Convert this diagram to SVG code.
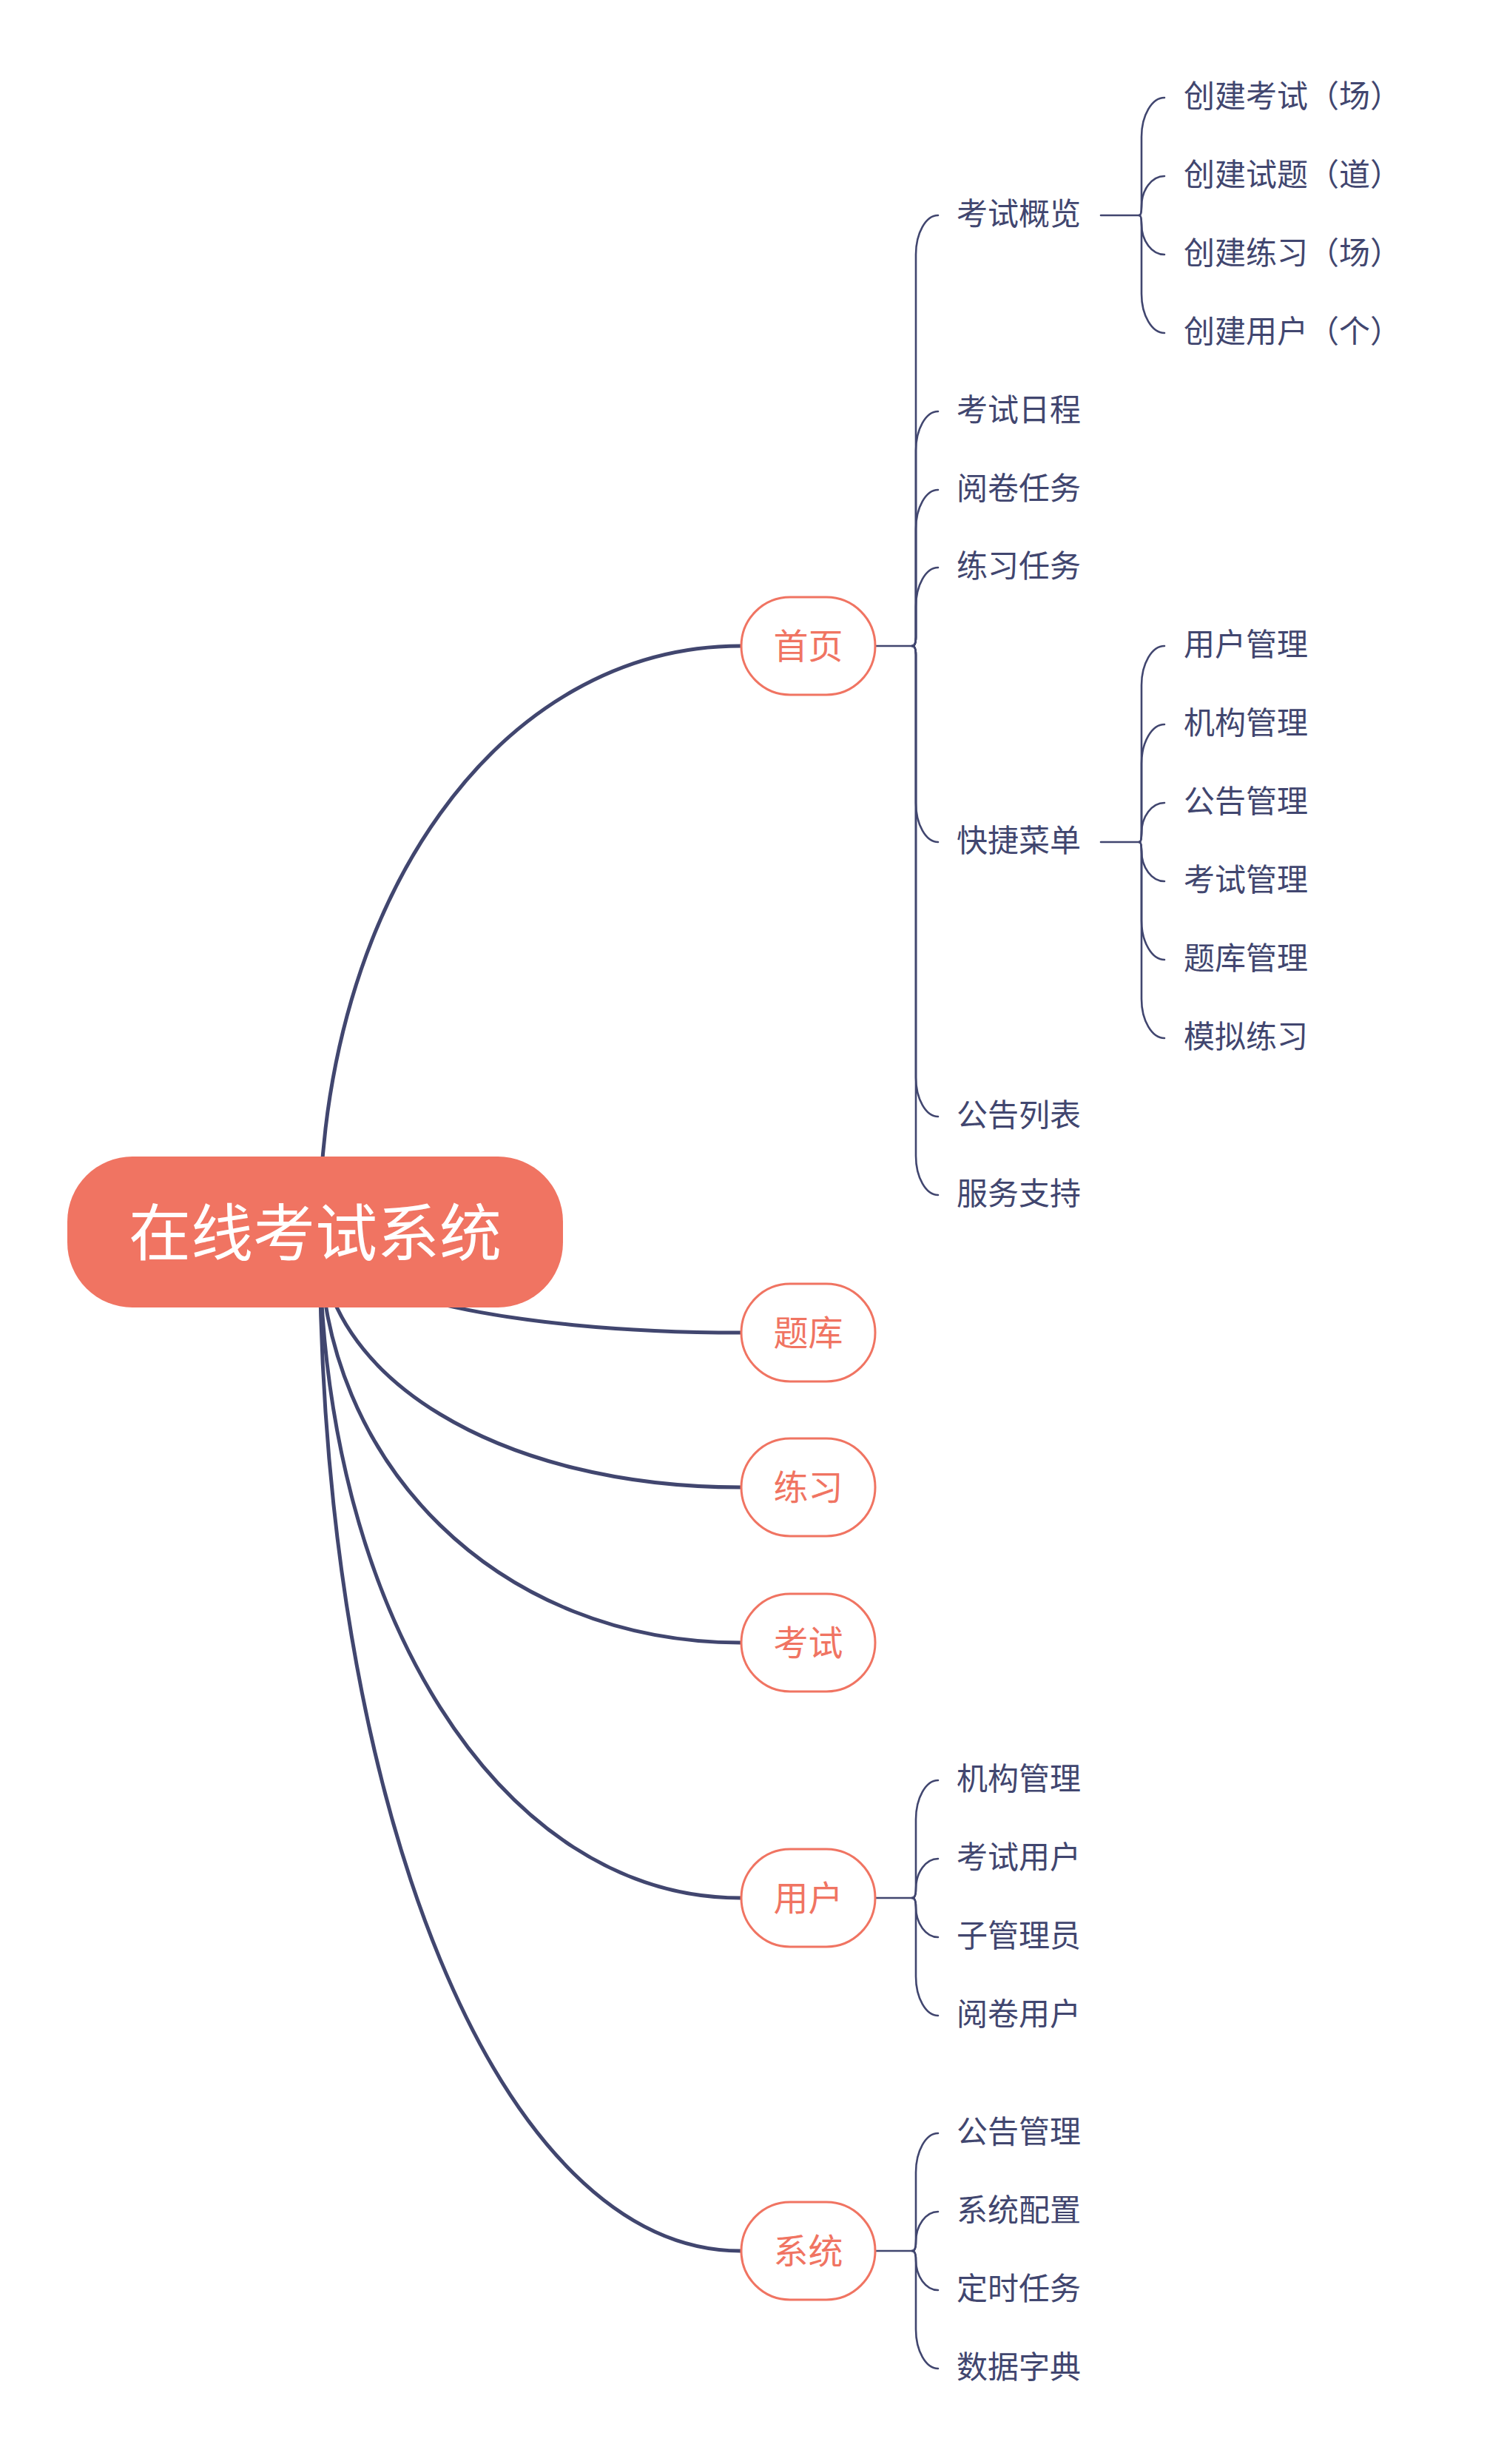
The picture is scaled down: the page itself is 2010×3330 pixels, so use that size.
<svg xmlns="http://www.w3.org/2000/svg" width="2010" height="3330" viewBox="0 0 2010 3330">
<style>
.main{fill:none;stroke:#41466F;stroke-width:5;stroke-linecap:round}
.br{fill:none;stroke:#41466F;stroke-width:2.6;stroke-linecap:round;stroke-linejoin:round}
.t{font-family:"Noto Sans CJK SC","Noto Sans",sans-serif;fill:#41466F;font-size:42px}
.l1 rect{fill:#FFFFFF;stroke:#F07462;stroke-width:3}
.l1 text{font-family:"Noto Sans CJK SC","Noto Sans",sans-serif;fill:#F07462;font-size:47px;text-anchor:middle}
.root text{font-family:"Noto Sans CJK SC","Noto Sans",sans-serif;fill:#FFFFFF;font-size:84px;text-anchor:middle}
</style>
<rect width="2010" height="3330" fill="#FFFFFF"/>
<g id="connectors">
<path class="main" d="M432 1665 C432 1213.6 676.7 873 1001 873"/>
<path class="main" d="M432 1665 C432 1742.5 676.7 1801 1001 1801"/>
<path class="main" d="M432 1665 C432 1861.7 676.7 2010 1001 2010"/>
<path class="main" d="M432 1665 C432 1981.4 676.7 2220 1001 2220"/>
<path class="main" d="M432 1665 C432 2178 676.7 2565 1001 2565"/>
<path class="main" d="M432 1665 C432 2449.9 676.7 3042 1001 3042"/>
<path class="br" d="M1183 873 H1233"/>
<path class="br" d="M1233 873 Q1238 873 1238 861 L1238 344 C1238 315 1251.5 291 1268 291"/>
<path class="br" d="M1233 873 Q1238 873 1238 861 L1238 609 C1238 580 1251.5 556 1268 556"/>
<path class="br" d="M1233 873 Q1238 873 1238 861 L1238 715 C1238 686 1251.5 662 1268 662"/>
<path class="br" d="M1233 873 Q1238 873 1238 861 L1238 820 C1238 791 1251.5 767 1268 767"/>
<path class="br" d="M1233 873 Q1238 873 1238 885 L1238 1085 C1238 1114 1251.5 1138 1268 1138"/>
<path class="br" d="M1233 873 Q1238 873 1238 885 L1238 1456 C1238 1485 1251.5 1509 1268 1509"/>
<path class="br" d="M1233 873 Q1238 873 1238 885 L1238 1562 C1238 1591 1251.5 1615 1268 1615"/>
<path class="br" d="M1488 291 H1540"/>
<path class="br" d="M1540 291 Q1543 291 1543 279 L1543 185 C1543 156 1557 132 1574 132"/>
<path class="br" d="M1540 291 Q1543 291 1543 279 C1543 256.5 1557 238 1574 238"/>
<path class="br" d="M1540 291 Q1543 291 1543 303 C1543 325.5 1557 344 1574 344"/>
<path class="br" d="M1540 291 Q1543 291 1543 303 L1543 397 C1543 426 1557 450 1574 450"/>
<path class="br" d="M1488 1138 H1540"/>
<path class="br" d="M1540 1138 Q1543 1138 1543 1126 L1543 926 C1543 897 1557 873 1574 873"/>
<path class="br" d="M1540 1138 Q1543 1138 1543 1126 L1543 1032 C1543 1003 1557 979 1574 979"/>
<path class="br" d="M1540 1138 Q1543 1138 1543 1126 C1543 1103.5 1557 1085 1574 1085"/>
<path class="br" d="M1540 1138 Q1543 1138 1543 1150 C1543 1172.5 1557 1191 1574 1191"/>
<path class="br" d="M1540 1138 Q1543 1138 1543 1150 L1543 1244 C1543 1273 1557 1297 1574 1297"/>
<path class="br" d="M1540 1138 Q1543 1138 1543 1150 L1543 1350 C1543 1379 1557 1403 1574 1403"/>
<path class="br" d="M1183 2565 H1233"/>
<path class="br" d="M1233 2565 Q1238 2565 1238 2553 L1238 2459 C1238 2430 1251.5 2406 1268 2406"/>
<path class="br" d="M1233 2565 Q1238 2565 1238 2553 C1238 2530.5 1251.5 2512 1268 2512"/>
<path class="br" d="M1233 2565 Q1238 2565 1238 2577 C1238 2599.5 1251.5 2618 1268 2618"/>
<path class="br" d="M1233 2565 Q1238 2565 1238 2577 L1238 2671 C1238 2700 1251.5 2724 1268 2724"/>
<path class="br" d="M1183 3042 H1233"/>
<path class="br" d="M1233 3042 Q1238 3042 1238 3030 L1238 2936 C1238 2907 1251.5 2883 1268 2883"/>
<path class="br" d="M1233 3042 Q1238 3042 1238 3030 C1238 3007.5 1251.5 2989 1268 2989"/>
<path class="br" d="M1233 3042 Q1238 3042 1238 3054 C1238 3076.5 1251.5 3095 1268 3095"/>
<path class="br" d="M1233 3042 Q1238 3042 1238 3054 L1238 3148 C1238 3177 1251.5 3201 1268 3201"/>
</g>
<g id="root" class="root">
<rect x="91" y="1563" width="670" height="204" rx="88" ry="88" fill="#F07462"/>
<text x="426" y="1697">在线考试系统</text>
</g>
<g id="n-shouye" class="l1"><rect x="1002" y="807" width="181" height="132" rx="66" ry="66"/><text x="1092.5" y="890">首页</text></g>
<g id="n-tiku" class="l1"><rect x="1002" y="1735" width="181" height="132" rx="66" ry="66"/><text x="1092.5" y="1818">题库</text></g>
<g id="n-lianxi" class="l1"><rect x="1002" y="1944" width="181" height="132" rx="66" ry="66"/><text x="1092.5" y="2027">练习</text></g>
<g id="n-kaoshi" class="l1"><rect x="1002" y="2154" width="181" height="132" rx="66" ry="66"/><text x="1092.5" y="2237">考试</text></g>
<g id="n-yonghu" class="l1"><rect x="1002" y="2499" width="181" height="132" rx="66" ry="66"/><text x="1092.5" y="2582">用户</text></g>
<g id="n-xitong" class="l1"><rect x="1002" y="2976" width="181" height="132" rx="66" ry="66"/><text x="1092.5" y="3059">系统</text></g>
<g id="n-ksgl"><text class="t" x="1293" y="304">考试概览</text></g>
<g id="n-ksrc"><text class="t" x="1293" y="569">考试日程</text></g>
<g id="n-yjrw"><text class="t" x="1293" y="675">阅卷任务</text></g>
<g id="n-lxrw"><text class="t" x="1293" y="780">练习任务</text></g>
<g id="n-kjcd"><text class="t" x="1293" y="1151">快捷菜单</text></g>
<g id="n-gglb"><text class="t" x="1293" y="1522">公告列表</text></g>
<g id="n-fwzc"><text class="t" x="1293" y="1628">服务支持</text></g>
<g id="n-cjks"><text class="t" x="1600" y="145">创建考试（场）</text></g>
<g id="n-cjst"><text class="t" x="1600" y="251">创建试题（道）</text></g>
<g id="n-cjlx"><text class="t" x="1600" y="357">创建练习（场）</text></g>
<g id="n-cjyh"><text class="t" x="1600" y="463">创建用户（个）</text></g>
<g id="n-yhgl"><text class="t" x="1600" y="886">用户管理</text></g>
<g id="n-jggl"><text class="t" x="1600" y="992">机构管理</text></g>
<g id="n-gggl"><text class="t" x="1600" y="1098">公告管理</text></g>
<g id="n-ksgl2"><text class="t" x="1600" y="1204">考试管理</text></g>
<g id="n-tkgl"><text class="t" x="1600" y="1310">题库管理</text></g>
<g id="n-mnlx"><text class="t" x="1600" y="1416">模拟练习</text></g>
<g id="n-u-jggl"><text class="t" x="1293" y="2419">机构管理</text></g>
<g id="n-u-ksyh"><text class="t" x="1293" y="2525">考试用户</text></g>
<g id="n-u-zgly"><text class="t" x="1293" y="2631">子管理员</text></g>
<g id="n-u-yjyh"><text class="t" x="1293" y="2737">阅卷用户</text></g>
<g id="n-s-gggl"><text class="t" x="1293" y="2896">公告管理</text></g>
<g id="n-s-xtpz"><text class="t" x="1293" y="3002">系统配置</text></g>
<g id="n-s-dsrw"><text class="t" x="1293" y="3108">定时任务</text></g>
<g id="n-s-sjzd"><text class="t" x="1293" y="3214">数据字典</text></g>
</svg>
